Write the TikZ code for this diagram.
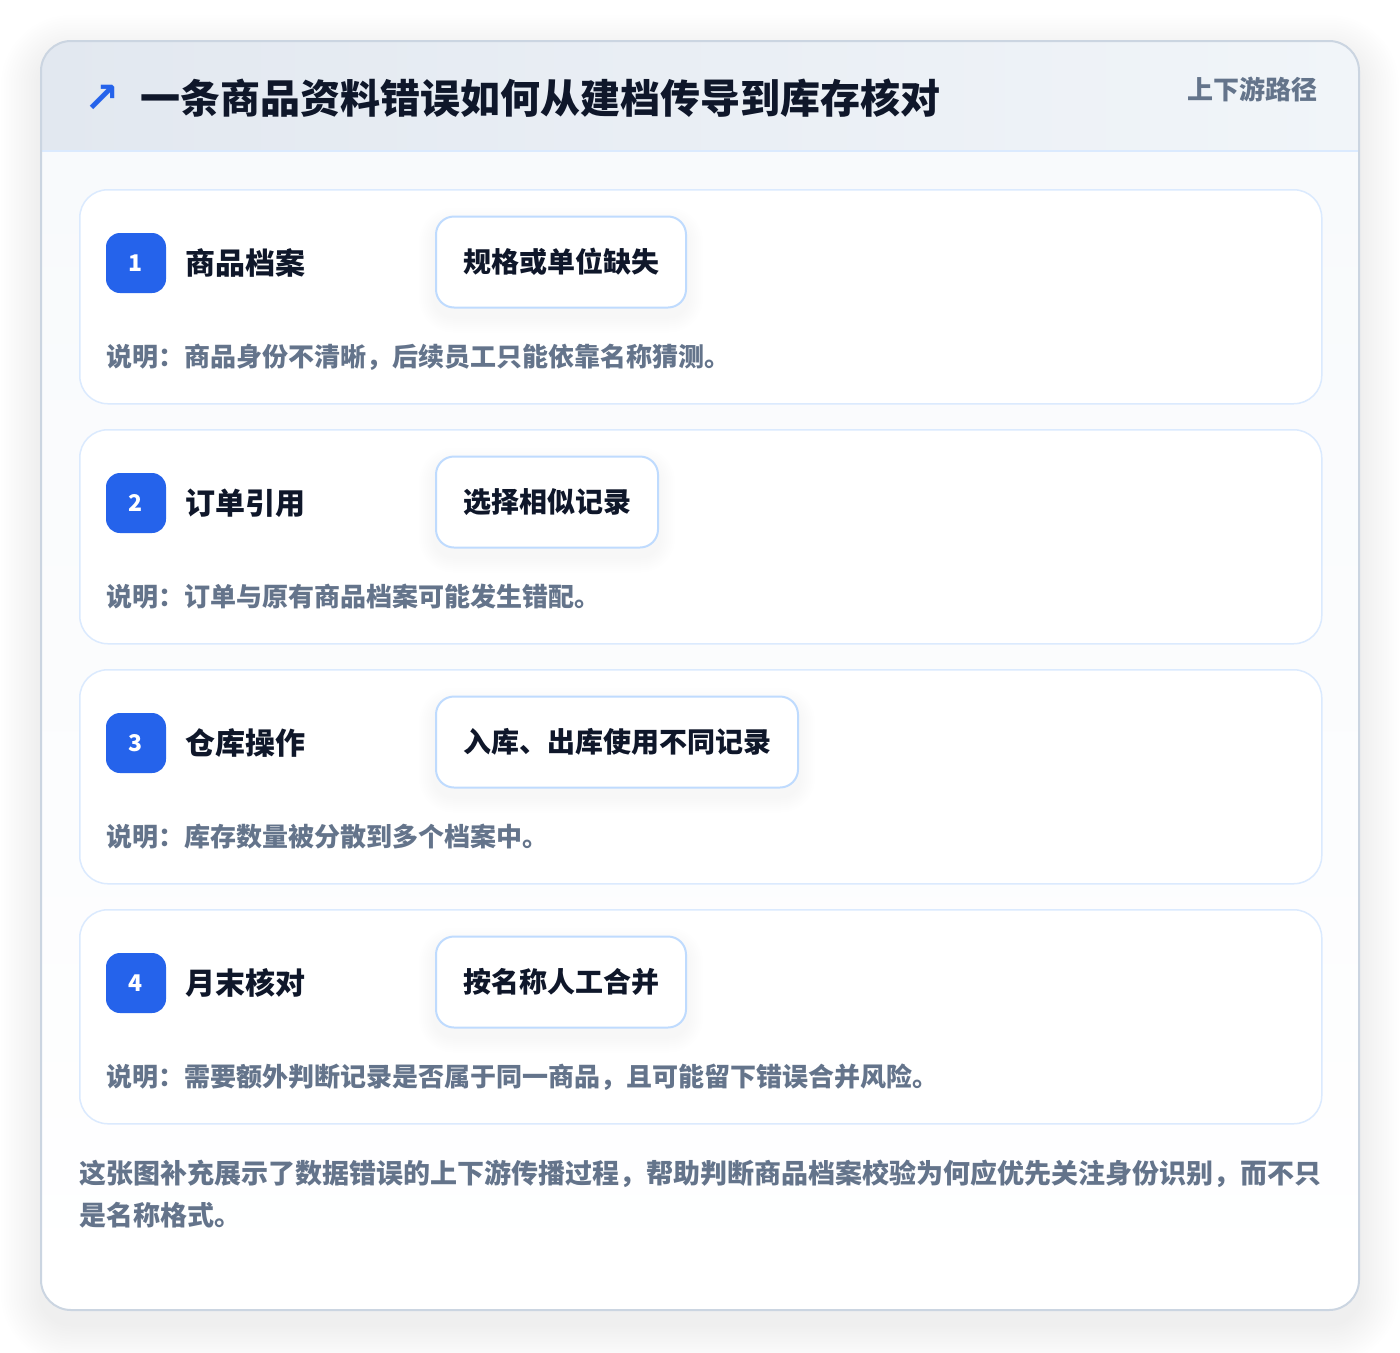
\documentclass[tikz,border=0pt]{standalone}
\usepackage{fontspec}
\setmainfont{Noto Sans CJK SC}
\newfontfamily\heavyfont{Noto Sans CJK SC Black}
\newfontfamily\symfont{DejaVu Sans}
\usetikzlibrary{positioning,calc}

\definecolor{ink}{HTML}{0F172A}
\definecolor{muted}{HTML}{64748B}
\definecolor{accent}{HTML}{2563EB}
\definecolor{cardline}{HTML}{CBD5E1}
\definecolor{stepline}{HTML}{DBEAFE}
\definecolor{tagline}{HTML}{BFDBFE}
\definecolor{headleft}{HTML}{E2E8F0}
\definecolor{headright}{HTML}{F1F5F9}
\definecolor{bodytop}{HTML}{F8FAFC}

\pgfdeclarelayer{back}
\pgfdeclarelayer{mid}
\pgfdeclarelayer{shade}
\pgfsetlayers{back,mid,shade,main}

\tikzset{
  stepcard/.style={draw=stepline, line width=1.5pt, fill=white, rounded corners=28pt,
    minimum width=1242pt, minimum height=214pt, inner sep=0pt, anchor=north west},
  badge/.style={fill=accent, rounded corners=14pt, minimum size=60pt, inner sep=0pt,
    text=white, font=\fontsize{23}{23}\selectfont\bfseries},
  steptitle/.style={text=ink, inner sep=0pt, font=\fontsize{30}{30}\selectfont\bfseries},
  tagbox/.style={draw=tagline, line width=2pt, fill=white, rounded corners=18pt,
    minimum height=91pt, inner xsep=27pt, inner ysep=0pt, text=ink,
    font=\fontsize{28}{28}\selectfont\bfseries},
  desc/.style={text=muted, inner sep=0pt, anchor=west, font=\fontsize{26}{26}\selectfont\bfseries}
}

\begin{document}
\begin{tikzpicture}[x=1pt, y=-1pt]
\useasboundingbox (0,0) rectangle (1400,1352);

% outer card and its soft shadow
\begin{pgfonlayer}{back}
  \fill[white] (0,0) rectangle (1400,1352);
  \foreach \k in {1,...,16}{
    \pgfmathsetmacro\e{2.5*\k}
    \pgfmathsetmacro\r{30+\e}
    \fill[black, opacity=0.0035, rounded corners=\r pt]
      (41-\e,41-\e+14) rectangle (1359+\e,1310+\e+14);
  }
  \node[rounded corners=30pt, fill=white, minimum width=1318pt, minimum height=1269pt,
    inner sep=0pt, anchor=north west] (card) at (41,41) {};
  \begin{scope}
    \clip[rounded corners=30pt] (41,41) rectangle (1359,1310);
    \fill[left color=headleft, right color=headright] (41,41) rectangle (1359,151);
    \fill[top color=bodytop, bottom color=white] (41,151) rectangle (1359,1310);
  \end{scope}
  \draw[stepline, line width=2pt] (41,151) -- (1359,151);
  \draw[cardline, line width=2pt, rounded corners=30pt] (41,41) rectangle (1359,1310);
\end{pgfonlayer}

% header
\node[text=accent, inner sep=0pt, anchor=west, font=\symfont\bfseries\fontsize{42}{42}\selectfont] (icon) at (84,99) {↗};
\node[text=ink, inner sep=0pt, anchor=west, font=\heavyfont\fontsize{40}{40}\selectfont] (title) at (140,98)
  {一条商品资料错误如何从建档传导到库存核对};
\node[text=muted, inner sep=0pt, anchor=east, font=\fontsize{26}{26}\selectfont\bfseries] (tagline) at (1318,89)
  {上下游路径};

% steps
\foreach \n/\ttl/\tag/\txt [count=\i from 0] in {
    1/商品档案/规格或单位缺失/商品身份不清晰，后续员工只能依靠名称猜测。,
    2/订单引用/选择相似记录/订单与原有商品档案可能发生错配。,
    3/仓库操作/入库、出库使用不同记录/库存数量被分散到多个档案中。,
    4/月末核对/按名称人工合并/需要额外判断记录是否属于同一商品，且可能留下错误合并风险。}{
  \pgfmathsetmacro\top{189+240*\i}
  \begin{pgfonlayer}{mid}
    \node[stepcard] (s\n) at (79,\top) {};
  \end{pgfonlayer}
  \node[badge] (b\n) at (136,\top+74) {\n};
  \node[steptitle, right=19pt of b\n] (t\n) {\ttl};
  \node[tagbox, anchor=west] (g\n) at (435,\top+73) {\tag};
  \begin{pgfonlayer}{shade}
    \foreach \k in {1,...,8}{
      \pgfmathsetmacro\e{2*\k}
      \pgfmathsetmacro\r{18+\e}
      \fill[black, opacity=0.005, rounded corners=\r pt]
        ($(g\n.north west)+(-\e,-\e+8)$) rectangle ($(g\n.south east)+(\e,\e+8)$);
    }
  \end{pgfonlayer}
  \node[desc] (d\n) at (106,\top+168) {说明：\txt};
}

% footer note
\node[text=muted, inner sep=0pt, anchor=north west, align=left,
  font=\fontsize{27}{42}\selectfont\bfseries] (note) at (79,1160)
  {这张图补充展示了数据错误的上下游传播过程，帮助判断商品档案校验为何应优先关注身份识别，而不只\\
   是名称格式。};
\end{tikzpicture}
\end{document}
